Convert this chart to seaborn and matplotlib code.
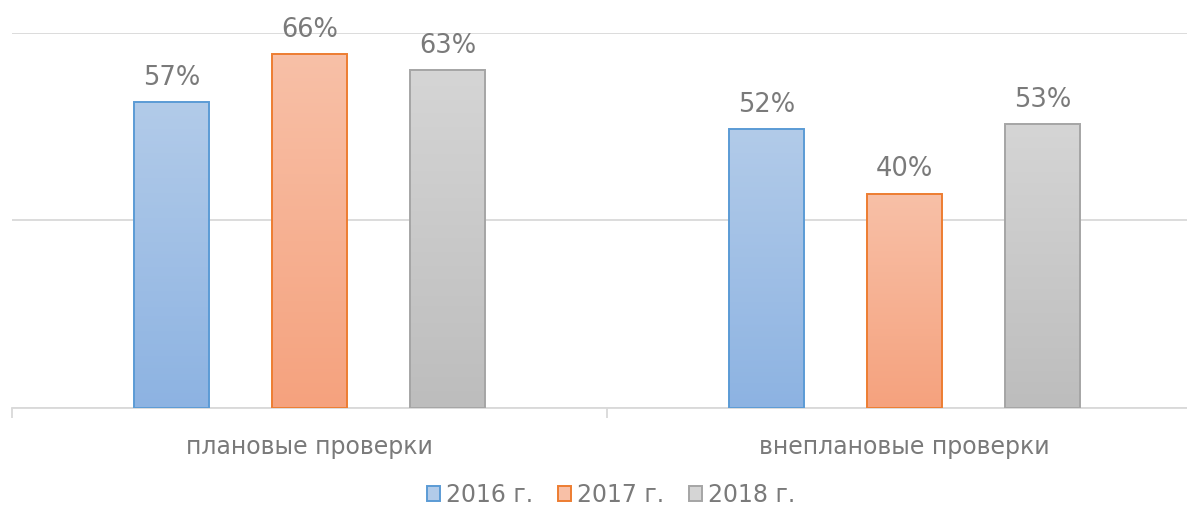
import numpy as np
import pandas as pd
import seaborn as sns
import matplotlib.pyplot as plt
from matplotlib.colors import LinearSegmentedColormap
from matplotlib.patches import Patch

categories = ["плановые проверки", "внеплановые проверки"]
years = ["2016 г.", "2017 г.", "2018 г."]
val_2016 = [57, 52]
val_2017 = [66, 40]
val_2018 = [63, 53]

# colours: edge, gradient top, gradient bottom
edges = ["#5b9bd5", "#ed7d31", "#a5a5a5"]
tops = ["#b2cbe9", "#f8c0a7", "#d5d5d5"]
bottoms = ["#8db3e2", "#f5a27e", "#bdbdbd"]

df = pd.DataFrame({
    "cat": categories * 3,
    "year": [y for y in years for _ in categories],
    "val": val_2016 + val_2017 + val_2018,
})

sns.set_style("white")
plt.rcParams["font.family"] = ["DejaVu Sans"]
txt = "#7a7a7a"

fig = plt.figure(figsize=(11.87, 5.09), dpi=100)
ax = fig.add_axes([12 / 1187, 100.7 / 509, 1190 / 1187, 375.8 / 509])

sns.barplot(data=df, x="cat", y="val", hue="year", hue_order=years,
            order=categories, width=0.696, gap=0.457, ax=ax,
            palette=tops, legend=False, errorbar=None)

for i, cont in enumerate(ax.containers):
    cmap = LinearSegmentedColormap.from_list("g%d" % i, [tops[i], bottoms[i]])
    for p in cont.patches:
        p.set_facecolor("none")
        p.set_edgecolor(edges[i])
        p.set_linewidth(1.4)
        p.set_zorder(3)
        x0, y0 = p.get_x(), p.get_y()
        w, h = p.get_width(), p.get_height()
        im = ax.imshow(np.linspace(0, 1, 100).reshape(-1, 1), cmap=cmap,
                       aspect="auto", extent=[x0, x0 + w, y0, y0 + h],
                       origin="upper", zorder=2)
        im.set_clip_path(p)

ax.set_xlim(-0.5, 1.5)
ax.set_ylim(0, 70)
for cont in ax.containers:
    ax.bar_label(cont, fmt="{:.0f}%", padding=8, fontsize=18.5, color=txt)

ax.set_yticks([0, 35, 70])
ax.yaxis.grid(True, color="#d9d9d9", linewidth=1.3)
ax.set_axisbelow(True)
ax.tick_params(axis="y", left=False, labelleft=False)
ax.set_xticks([-0.5, 0.5, 1.5], minor=True)
ax.tick_params(axis="x", which="minor", bottom=True, length=7, color="#d9d9d9", width=1.3)
ax.tick_params(axis="x", which="major", length=0, pad=19, labelsize=17, labelcolor=txt)
ax.set_xlabel("")
ax.set_ylabel("")
for s in ["left", "right", "top"]:
    ax.spines[s].set_visible(False)
ax.spines["bottom"].set_color("#d9d9d9")
ax.spines["bottom"].set_linewidth(1.3)

handles = [Patch(facecolor=tops[i], edgecolor=edges[i], linewidth=1.4, label=years[i])
           for i in range(3)]
fig.legend(handles=handles, loc="center", bbox_to_anchor=(611 / 1187, 1 - 495 / 509),
           ncol=3, frameon=False, fontsize=17, labelcolor=txt,
           handlelength=0.55, handleheight=0.6, handletextpad=0.25, columnspacing=1.05)

fig.savefig("out.png", dpi=100)
